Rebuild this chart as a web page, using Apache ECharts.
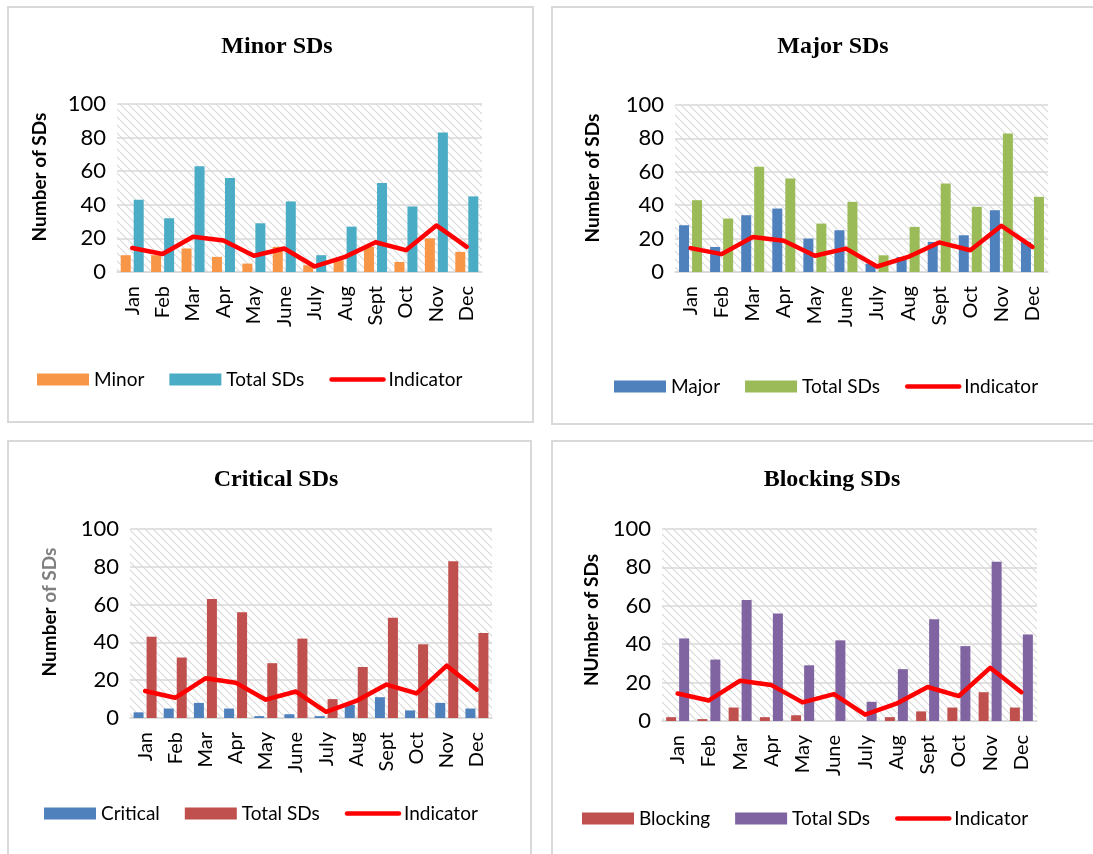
<!DOCTYPE html>
<html>
<head>
<meta charset="utf-8">
<script src="https://cdn.jsdelivr.net/npm/echarts@6/dist/echarts.min.js"></script>
<style>
  html, body { margin: 0; padding: 0; background: #fff; }
  #page { position: relative; width: 1093px; height: 854px; overflow: hidden; }
  .panel { position: absolute; left: 0; top: 0; width: 1093px; height: 854px; }
</style>
</head>
<body>
<div id="page">
  <div class="panel" id="p1"></div>
  <div class="panel" id="p2"></div>
  <div class="panel" id="p3"></div>
  <div class="panel" id="p4"></div>
</div>
<script>
// Months on the category axis
const months = ['Jan', 'Feb', 'Mar', 'Apr', 'May', 'June', 'July', 'Aug', 'Sept', 'Oct', 'Nov', 'Dec'];

// Total number of SDs per month (same in every panel)
const totalSDs = [43, 32, 63, 56, 29, 42, 10, 27, 53, 39, 83, 45];

// Indicator line per month
const indicator = [14.3, 10.7, 21, 18.7, 9.7, 14, 3.3, 9, 17.7, 13, 27.7, 15];

// SDs per month by severity
const minorSDs = [10, 10, 14, 9, 5, 15, 4, 7, 15, 6, 20, 12];
const majorSDs = [28, 15, 34, 38, 20, 25, 5, 9, 18, 22, 37, 18];
const criticalSDs = [3, 5, 8, 5, 1, 2, 1, 7, 11, 4, 8, 5];
const blockingSDs = [2, 1, 7, 2, 3, 0, 0, 2, 5, 7, 15, 7];

// Value axis range
const yMin = 0, yMax = 100, yStep = 20;

// Diagonal hatch used as plot-area fill
function hatchPattern() {
  const c = document.createElement('canvas');
  c.width = 8; c.height = 8;
  const ctx = c.getContext('2d');
  ctx.strokeStyle = '#dadada';
  ctx.lineWidth = 1.2;
  for (const k of [-8, 0, 8]) {
    ctx.beginPath();
    ctx.moveTo(k, 0);
    ctx.lineTo(k + 8, 8);
    ctx.stroke();
  }
  return { image: c, repeat: 'repeat' };
}

const FONT = 'Lato, "Open Sans", sans-serif';

const panels = [
  {
    id: 'p1', title: 'Minor SDs', titleX: 272, titleY: 30,
    box: [8, 7, 525, 415],
    grid: { left: 117, top: 104, width: 365, height: 168 },
    yName: 'Number of SDs', yNameX: 40, yNameY: 177,
    sevName: 'Minor', sevData: minorSDs, sevColor: '#F79646', totColor: '#4BACC6',
    legend: { left: 32, top: 365 }
  },
  {
    id: 'p2', title: 'Major SDs', titleX: 828, titleY: 30,
    box: [552, 7, 560, 417],
    grid: { left: 675, top: 105, width: 373, height: 167 },
    yName: 'Number of SDs', yNameX: 593, yNameY: 178,
    sevName: 'Major', sevData: majorSDs, sevColor: '#4F81BD', totColor: '#9BBB59',
    legend: { left: 609, top: 372 }
  },
  {
    id: 'p3', title: 'Critical SDs', titleX: 271, titleY: 463,
    box: [8, 441, 523, 430],
    grid: { left: 130, top: 529, width: 362, height: 189 },
    yName: 'Number of SDs', grayTail: true, yNameX: 50, yNameY: 612,
    sevName: 'Critical', sevData: criticalSDs, sevColor: '#4F81BD', totColor: '#C0504D',
    legend: { left: 39, top: 799 }
  },
  {
    id: 'p4', title: 'Blocking SDs', titleX: 827, titleY: 463,
    box: [552, 441, 560, 430],
    grid: { left: 662, top: 529, width: 375, height: 192 },
    yName: 'NUmber of SDs', yNameX: 592, yNameY: 620,
    sevName: 'Blocking', sevData: blockingSDs, sevColor: '#C0504D', totColor: '#8064A2',
    legend: { left: 577, top: 804 }
  }
];

panels.forEach(p => {
  const chart = echarts.init(document.getElementById(p.id), null, { renderer: 'canvas' });

  const yNameText = p.grayTail
    ? { text: '{a|Number }{b|of SDs}', rich: {
          a: { fill: '#000', font: 'bold 19px ' + FONT },
          b: { fill: '#7f7f7f', font: 'bold 19px ' + FONT } } }
    : { text: p.yName };

  chart.setOption({
    animation: false,
    title: {
      text: p.title,
      left: p.titleX,
      top: p.titleY,
      textAlign: 'center',
      textStyle: { fontFamily: '"Liberation Serif", serif', fontWeight: 'bold', fontSize: 24, color: '#000' }
    },
    graphic: [
      {
        type: 'rect', silent: true, z: -10,
        shape: { x: p.box[0], y: p.box[1], width: p.box[2], height: p.box[3] },
        style: { fill: '#fff', stroke: '#d9d9d9', lineWidth: 2 }
      },
      {
        type: 'text', silent: true,
        x: p.yNameX, y: p.yNameY, rotation: Math.PI / 2,
        style: Object.assign({
          font: 'bold 19px ' + FONT, fill: '#000',
          align: 'center', verticalAlign: 'middle'
        }, yNameText)
      }
    ],
    legend: {
      left: p.legend.left, top: p.legend.top,
      itemWidth: 52, itemHeight: 12, itemGap: 25,
      textStyle: { fontFamily: FONT, fontSize: 19, color: '#000' },
      data: [
        { name: p.sevName, icon: 'rect' },
        { name: 'Total SDs', icon: 'rect' },
        {
          name: 'Indicator',
          itemStyle: { opacity: 0, color: 'rgba(0,0,0,0)', borderWidth: 0 },
          lineStyle: { width: 4.5, color: '#FF0000', cap: 'round' }
        }
      ]
    },
    grid: Object.assign({
      show: true, borderWidth: 0, backgroundColor: hatchPattern()
    }, p.grid),
    xAxis: {
      type: 'category', data: months,
      axisTick: { show: false },
      axisLine: { show: true, lineStyle: { color: '#d9d9d9', width: 1.5 } },
      axisLabel: { rotate: 90, margin: 14, fontFamily: FONT, fontSize: 20, color: '#000', interval: 0 }
    },
    yAxis: {
      type: 'value', min: yMin, max: yMax, interval: yStep,
      axisLine: { show: false }, axisTick: { show: false },
      splitLine: { show: true, lineStyle: { color: '#d9d9d9', width: 1.5 } },
      axisLabel: { margin: 11, fontFamily: FONT, fontSize: 22, color: '#000' }
    },
    series: [
      {
        name: p.sevName, type: 'bar', data: p.sevData,
        barWidth: 10, barGap: '30%',
        itemStyle: { color: p.sevColor }
      },
      {
        name: 'Total SDs', type: 'bar', data: totalSDs,
        barWidth: 10, barGap: '30%',
        itemStyle: { color: p.totColor }
      },
      {
        name: 'Indicator', type: 'line', data: indicator,
        symbol: 'none', z: 5,
        lineStyle: { color: '#FF0000', width: 4.5, join: 'round', cap: 'round' },
        itemStyle: { color: '#FF0000' }
      }
    ]
  });
});
</script>
</body>
</html>
